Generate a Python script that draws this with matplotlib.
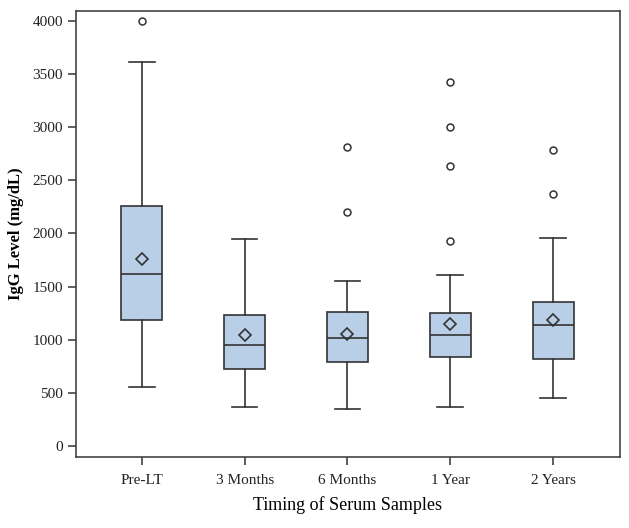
import matplotlib
matplotlib.use("Agg")
import matplotlib.pyplot as plt

categories = ["Pre-LT", "3 Months", "6 Months", "1 Year", "2 Years"]
whislo = [552, 370, 348, 370, 449]
q1 = [1183, 722, 794, 841, 822]
med = [1619, 948, 1016, 1042, 1142]
q3 = [2262, 1233, 1258, 1255, 1355]
whishi = [3617, 1948, 1556, 1606, 1955]
means = [1760, 1048, 1051, 1148, 1189]
fliers = [[4000], [], [2817, 2200], [3429, 3005, 2638, 1932], [2789, 2375]]
yticks = [0, 500, 1000, 1500, 2000, 2500, 3000, 3500, 4000]

plt.rcParams['font.family'] = ['Liberation Serif', 'DejaVu Serif']

fig = plt.figure(figsize=(6.29, 5.28), dpi=100)
ax = fig.add_axes([0.1208, 0.1345, 0.8649, 0.8447])

stats = []
for i, c in enumerate(categories):
    stats.append(dict(label=c, whislo=whislo[i], q1=q1[i], med=med[i], q3=q3[i],
                      whishi=whishi[i], mean=means[i], fliers=fliers[i]))

lc = '#333333'
ax.bxp(stats, positions=range(len(categories)), widths=0.4, patch_artist=True,
       showmeans=True, showfliers=True,
       boxprops=dict(facecolor='#b8cfe7', edgecolor=lc, linewidth=1.2),
       medianprops=dict(color=lc, linewidth=1.2),
       whiskerprops=dict(color=lc, linewidth=1.2),
       capprops=dict(color=lc, linewidth=1.2),
       capwidths=0.25,
       meanprops=dict(marker='D', markerfacecolor='none', markeredgecolor=lc,
                      markersize=6.5, markeredgewidth=1.2),
       flierprops=dict(marker='o', markerfacecolor='none', markeredgecolor=lc,
                       markersize=5, markeredgewidth=1.1))

ax.set_xlim(-0.64, 4.65)
ax.set_ylim(-104, 4094)
ax.set_yticks(yticks)
ax.set_xticks(range(len(categories)))
ax.set_xticklabels(categories)
ax.tick_params(axis='both', direction='out', length=6, width=1.1, color=lc,
               labelsize=11, labelcolor='#222222')
ax.tick_params(axis='x', pad=6)
for s in ax.spines.values():
    s.set_color('#444444')
    s.set_linewidth(1.2)
ax.set_ylabel('IgG Level (mg/dL)', fontsize=12, fontweight='bold', labelpad=6)
ax.set_xlabel('Timing of Serum Samples', fontsize=13, labelpad=7)

fig.savefig('out.png', dpi=100)
